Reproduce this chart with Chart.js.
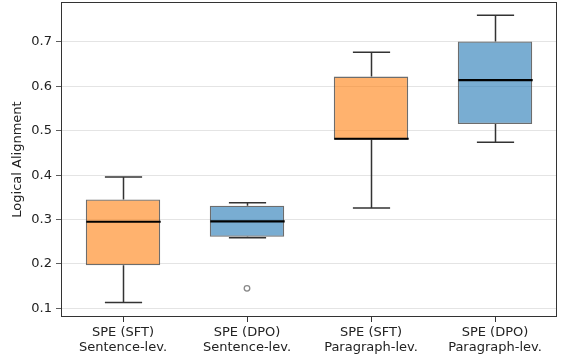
<!DOCTYPE html>
<html><head><meta charset="utf-8">
<script src="https://cdn.jsdelivr.net/npm/chart.js@4.4.1/dist/chart.umd.min.js"></script>
<style>html,body{margin:0;padding:0;background:#fff}#wrap{width:561px;height:358px}</style>
</head><body><div id="wrap"><canvas id="c" width="561" height="358"></canvas></div>
<script>
const categories = [["SPE (SFT)","Sentence-lev."],["SPE (DPO)","Sentence-lev."],["SPE (SFT)","Paragraph-lev."],["SPE (DPO)","Paragraph-lev."]];
const whiskerLow = [0.113, 0.259, 0.326, 0.474];
const q1 = [0.197, 0.261, 0.480, 0.515];
const median = [0.295, 0.296, 0.482, 0.614];
const q3 = [0.345, 0.331, 0.622, 0.701];
const whiskerHigh = [0.396, 0.338, 0.677, 0.760];
const outliers = [null, 0.145, null, null];
const yTicks = [0.1, 0.2, 0.3, 0.4, 0.5, 0.6, 0.7];
const boxColors = ["rgba(255,127,14,0.6)","rgba(31,119,180,0.6)","rgba(255,127,14,0.6)","rgba(31,119,180,0.6)"];

const boxPlugin = {
  id: 'boxParts',
  afterDatasetsDraw(chart) {
    const ctx = chart.ctx, x = chart.scales.x, y = chart.scales.y;
    const step = x.getPixelForValue(1) - x.getPixelForValue(0);
    ctx.save();
    for (let i = 0; i < categories.length; i++) {
      const cx = Math.round(x.getPixelForValue(i)) + 0.5;
      const cap = step * 0.15, half = step * 0.3;
      ctx.strokeStyle = '#333'; ctx.lineWidth = 1.5;
      ctx.beginPath();
      ctx.moveTo(cx, y.getPixelForValue(q3[i])); ctx.lineTo(cx, y.getPixelForValue(whiskerHigh[i]));
      ctx.moveTo(cx, y.getPixelForValue(q1[i])); ctx.lineTo(cx, y.getPixelForValue(whiskerLow[i]));
      ctx.moveTo(cx - cap, y.getPixelForValue(whiskerHigh[i])); ctx.lineTo(cx + cap, y.getPixelForValue(whiskerHigh[i]));
      ctx.moveTo(cx - cap, y.getPixelForValue(whiskerLow[i])); ctx.lineTo(cx + cap, y.getPixelForValue(whiskerLow[i]));
      ctx.stroke();
      ctx.strokeStyle = '#000'; ctx.lineWidth = 2.2;
      ctx.beginPath();
      ctx.moveTo(cx - half, y.getPixelForValue(median[i])); ctx.lineTo(cx + half, y.getPixelForValue(median[i]));
      ctx.stroke();
    }
    const a = chart.chartArea;
    ctx.strokeStyle = '#333'; ctx.lineWidth = 1;
    ctx.strokeRect(Math.round(a.left) + 0.5, Math.round(a.top) + 0.5, Math.round(a.right - a.left) - 1, Math.round(a.bottom - a.top) - 1);
    ctx.restore();
  }
};

new Chart(document.getElementById('c'), {
  type: 'bar',
  data: {
    labels: categories,
    datasets: [{
      data: q1.map((v, i) => [v, q3[i]]),
      backgroundColor: boxColors,
      borderColor: 'rgba(60,60,60,0.75)',
      borderWidth: 1.3,
      borderSkipped: false,
      barPercentage: 0.6,
      categoryPercentage: 1.0,
      order: 2
    }, {
      type: 'line',
      data: outliers,
      showLine: false,
      pointRadius: 2.8,
      pointBorderWidth: 1.3,
      pointBackgroundColor: '#fff',
      pointBorderColor: '#888',
      order: 1
    }]
  },
  options: {
    responsive: false,
    animation: false,
    layout: { autoPadding: false, padding: { top: 2, right: 4, left: 0, bottom: 0 } },
    plugins: { legend: { display: false }, tooltip: { enabled: false } },
    scales: {
      x: {
        offset: true,
        grid: { display: true, drawOnChartArea: false, drawTicks: true, tickLength: 5, tickColor: '#333', offset: false },
        border: { display: false },
        ticks: { color: '#222', font: { family: 'DejaVu Sans', size: 13, lineHeight: 1.15 }, padding: 3, maxRotation: 0 },
        afterFit(s) { s.height = 41; s.paddingLeft = 0; s.paddingRight = 0; }
      },
      y: {
        min: 0.0805, max: 0.79,
        afterBuildTicks(s) { s.ticks = yTicks.map(v => ({ value: v })); },
        grid: { color: '#dddddd', lineWidth: 0.8, borderDash: [4, 3], tickLength: 5, tickColor: '#333', tickBorderDash: [] },
        border: { display: false },
        ticks: { color: '#222', font: { family: 'DejaVu Sans', size: 13 }, padding: 4, callback: v => v.toFixed(1) },
        title: { display: true, text: 'Logical Alignment', color: '#222', font: { family: 'DejaVu Sans', size: 13 }, padding: { top: 10, bottom: 0 } },
        afterFit(s) { s.width = 61; s.paddingTop = 0; s.paddingBottom = 0; }
      }
    }
  },
  plugins: [boxPlugin]
});
</script></body></html>
